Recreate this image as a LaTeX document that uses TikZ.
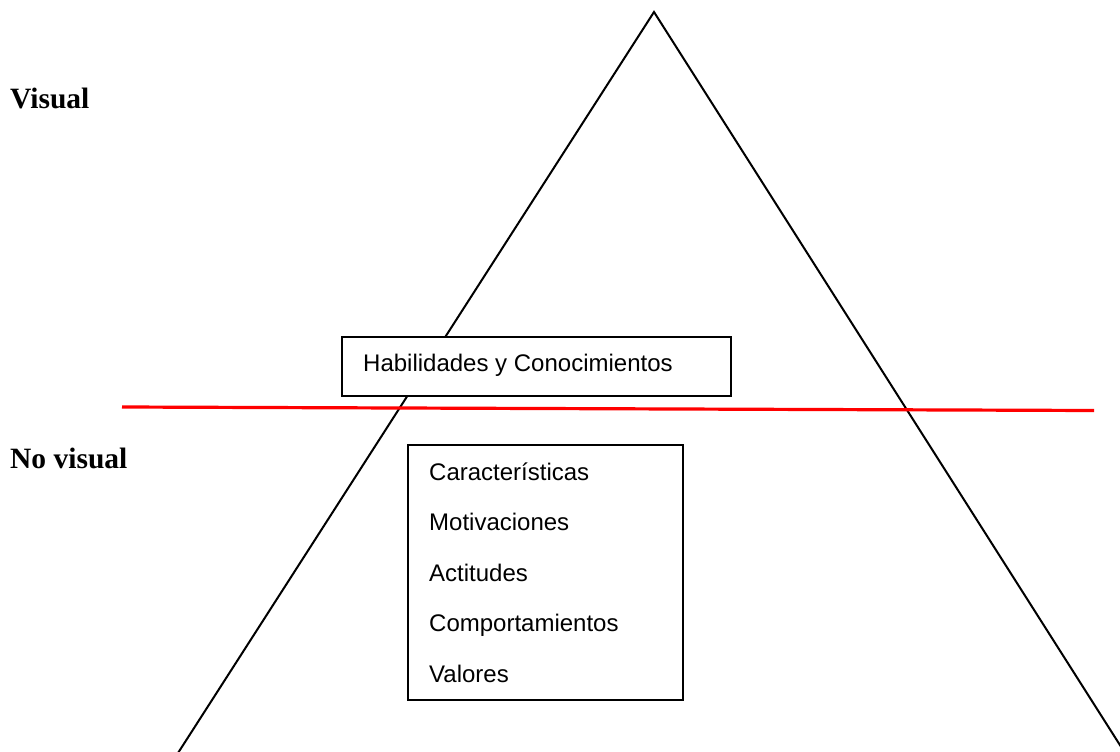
\documentclass[tikz,border=0pt]{standalone}
\usepackage{fontspec}
\setmainfont{Liberation Serif}
\newfontfamily\arialf{Liberation Sans}
\begin{document}
\begin{tikzpicture}[x=1pt,y=-1pt,
  boxst/.style={draw=black,line width=1.3pt,inner sep=0pt,rectangle},
  itemst/.style={anchor=base west,inner sep=0pt,font=\arialf\fontsize{24}{28}\selectfont},
  sidest/.style={anchor=base west,inner sep=0pt,font=\bfseries\fontsize{29.5}{34}\selectfont},
  tri/.style={draw=black,line width=2pt},
  divline/.style={draw=red,line width=3.2pt}]
\useasboundingbox (0,0) rectangle (1120,752);
\fill[white] (0,0) rectangle (1120,752);
\begin{scope}
\clip (0,0) rectangle (1120,752);
\coordinate (apex) at (654,12);
\coordinate (bl) at (178,753);
\coordinate (br) at (1125,753);
\draw[tri] (bl) -- (apex) -- (br);
\end{scope}
\node[boxst,fill=white,minimum width=389pt,minimum height=59pt] (hab) at (536.5,366.5) {};
\node[itemst] (habt) at (363,371) {Habilidades y Conocimientos};
\coordinate (ra) at (122,407);
\coordinate (rb) at (1094,410.5);
\draw[divline] (ra) -- (rb);
\node[boxst,fill=white,minimum width=275pt,minimum height=255pt] (nv) at (545.5,572.5) {};
\node[itemst] (i1) at (429,480) {Características};
\node[itemst] (i2) at (429,530.5) {Motivaciones};
\node[itemst] (i3) at (429,581) {Actitudes};
\node[itemst] (i4) at (429,631.5) {Comportamientos};
\node[itemst] (i5) at (429,682.5) {Valores};
\node[sidest] (vis) at (10,108) {Visual};
\node[sidest] (novis) at (10,468) {No visual};
\end{tikzpicture}
\end{document}
